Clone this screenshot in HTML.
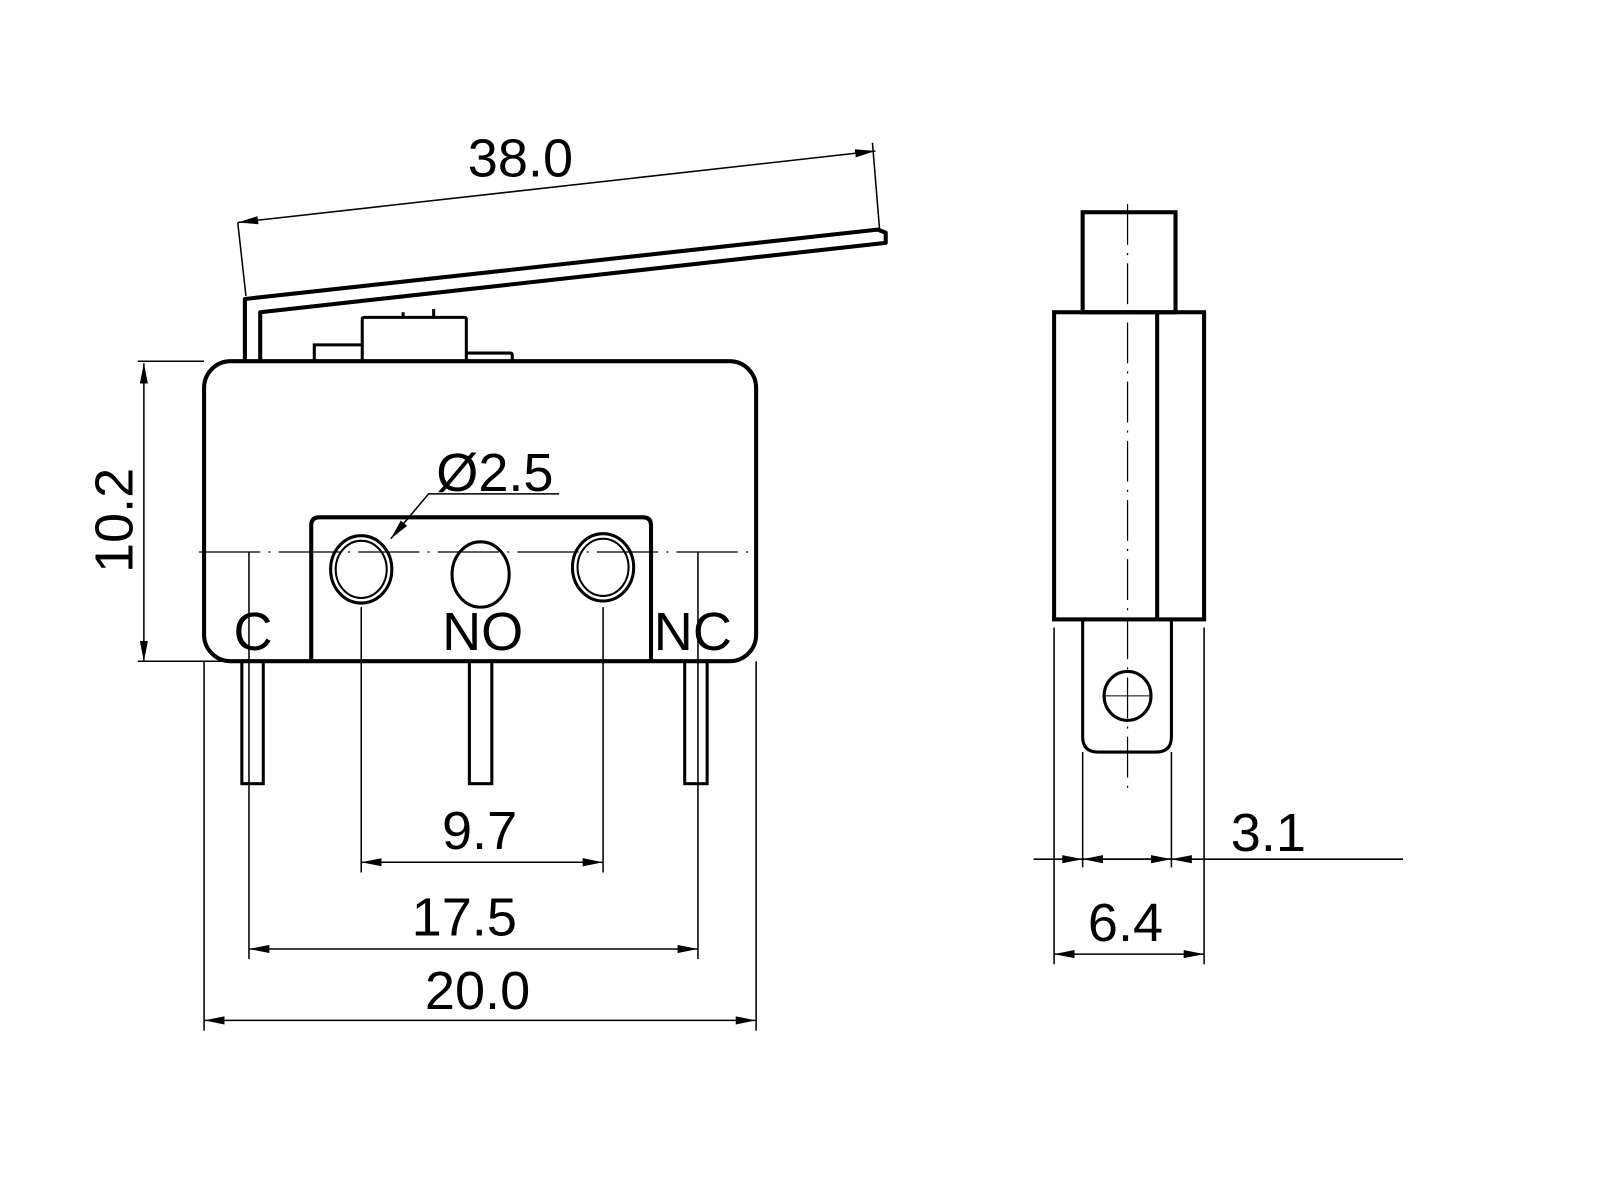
<!DOCTYPE html>
<html><head><meta charset="utf-8"><style>html,body{margin:0;padding:0;background:#fff}svg{display:block}</style></head>
<body>
<svg width="1600" height="1200" viewBox="0 0 1568 1176" xmlns="http://www.w3.org/2000/svg">
<defs>
<marker id="a" viewBox="0 0 20 8" refX="20" refY="4" markerWidth="20" markerHeight="8" markerUnits="userSpaceOnUse" orient="auto-start-reverse"><path d="M0,0L20,4L0,8z" fill="#000"/></marker>
</defs>
<g fill="none" stroke="#000">
<path d="M240,354V293L860,225L868,228V238L255,306V354" stroke-width="4" stroke-linejoin="round"/>
<path d="M395,306V311M425,303V311" stroke-width="3"/>
<path d="M308,354V338H355M355,354V313Q355,311 357,311H455Q457,311 457,313V354M457,346H500Q502,346 502,348V354" stroke-width="3"/>
<rect x="200" y="354" width="541" height="294" rx="26" stroke-width="4"/>
<path d="M305,648V515Q305,507 313,507H630Q638,507 638,515V648" stroke-width="4"/>
<ellipse cx="354" cy="558" rx="30" ry="33" stroke-width="3"/>
<ellipse cx="354" cy="558" rx="25" ry="28" stroke-width="2"/>
<ellipse cx="471" cy="563" rx="28" ry="32" stroke-width="3"/>
<ellipse cx="591" cy="556" rx="30" ry="33" stroke-width="3"/>
<ellipse cx="591" cy="556" rx="25" ry="28" stroke-width="2"/>
<path d="M195,541H740" stroke-width="1.2" stroke-dasharray="60,8,2,8"/>
<rect x="237" y="648" width="21" height="120" stroke-width="3"/>
<rect x="460" y="648" width="22" height="120" stroke-width="3"/>
<rect x="671" y="648" width="22" height="120" stroke-width="3"/>
<g stroke-width="1.5">
<path d="M233,218L241,290M855,140L862,225"/>
<path d="M233,218L858,148" marker-start="url(#a)" marker-end="url(#a)"/>
<path d="M135,354H200M135,648H237"/>
<path d="M141,356V648" marker-start="url(#a)" marker-end="url(#a)"/>
<path d="M354,595V855M591,595V855"/>
<path d="M354,845H591" marker-start="url(#a)" marker-end="url(#a)"/>
<path d="M244,541V940M684,541V940"/>
<path d="M244,930H684" marker-start="url(#a)" marker-end="url(#a)"/>
<path d="M200,648V1010M741,648V1010"/>
<path d="M200,1000H741" marker-start="url(#a)" marker-end="url(#a)"/>
<path d="M548,484H420L383,528" marker-end="url(#a)"/>
</g>
<rect x="1061" y="208" width="91" height="98" stroke-width="4"/>
<rect x="1033" y="306" width="147" height="301" stroke-width="4"/>
<path d="M1134,306V607" stroke-width="4"/>
<path d="M1061,607V722Q1061,737 1076,737H1133Q1148,737 1148,722V607" stroke-width="3"/>
<ellipse cx="1105" cy="682" rx="23" ry="24" stroke-width="3"/>
<path d="M1105,200V775" stroke-width="1.2" stroke-dasharray="40,8,2,8"/>
<path d="M1082,682H1128" stroke-width="1"/>
<g stroke-width="1.5">
<path d="M1033,615V945M1180,615V945M1061,737V850M1148,737V850"/>
<path d="M1013,842H1061" marker-end="url(#a)"/>
<path d="M1148,842H1061" marker-end="url(#a)"/>
<path d="M1061,842H1148" marker-end="url(#a)"/>
<path d="M1375,842H1148" marker-end="url(#a)"/>
<path d="M1033,935H1180" marker-start="url(#a)" marker-end="url(#a)"/>
</g>
</g>
<g font-family="Liberation Sans, DejaVu Sans, sans-serif" font-size="53" fill="#000" text-anchor="middle">
<text x="510" y="173">38.0</text>
<text x="485" y="481">Ø2.5</text>
<text x="248" y="637">C</text>
<text x="473" y="637">NO</text>
<text x="679" y="637">NC</text>
<text x="470" y="832">9.7</text>
<text x="455" y="917">17.5</text>
<text x="468" y="989">20.0</text>
<text x="1243" y="834">3.1</text>
<text x="1103" y="922">6.4</text>
<text transform="translate(130,510) rotate(-90)">10.2</text>
</g>
</svg>
</body></html>
